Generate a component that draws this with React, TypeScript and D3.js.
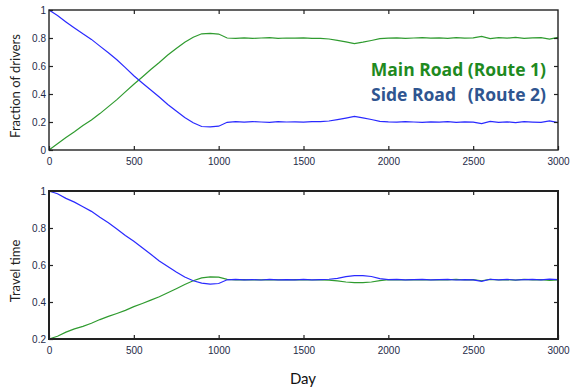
import React, { useEffect, useRef } from 'react';
import * as d3 from 'd3';

// sampled every 50 days
const days = [
  0, 50, 100, 150, 200, 250, 300, 350, 400, 450,
  500, 550, 600, 650, 700, 750, 800, 850, 900, 950,
  1000, 1050, 1100, 1150, 1200, 1250, 1300, 1350, 1400, 1450,
  1500, 1550, 1600, 1650, 1700, 1750, 1800, 1850, 1900, 1950,
  2000, 2050, 2100, 2150, 2200, 2250, 2300, 2350, 2400, 2450,
  2500, 2550, 2600, 2650, 2700, 2750, 2800, 2850, 2900, 2950,
  3000,
];

const mainFraction = [
  0.000, 0.045, 0.090, 0.130, 0.175, 0.215, 0.260, 0.310, 0.360, 0.415,
  0.470, 0.522, 0.575, 0.625, 0.678, 0.725, 0.770, 0.805, 0.830, 0.833,
  0.828, 0.800, 0.798, 0.801, 0.797, 0.800, 0.802, 0.798, 0.800, 0.799,
  0.801, 0.798, 0.797, 0.793, 0.783, 0.772, 0.760, 0.770, 0.782, 0.795,
  0.799, 0.801, 0.798, 0.800, 0.802, 0.799, 0.801, 0.797, 0.802, 0.799,
  0.801, 0.812, 0.796, 0.803, 0.799, 0.804, 0.798, 0.801, 0.803, 0.792,
  0.805,
];

const sideFraction = [
  1.000, 0.960, 0.915, 0.872, 0.830, 0.790, 0.742, 0.695, 0.645, 0.588,
  0.530, 0.478, 0.428, 0.378, 0.325, 0.278, 0.232, 0.195, 0.168, 0.165,
  0.170, 0.198, 0.202, 0.199, 0.203, 0.200, 0.198, 0.202, 0.200, 0.201,
  0.199, 0.202, 0.203, 0.207, 0.217, 0.228, 0.240, 0.230, 0.218, 0.205,
  0.201, 0.199, 0.202, 0.200, 0.198, 0.201, 0.199, 0.203, 0.198, 0.201,
  0.199, 0.188, 0.204, 0.197, 0.201, 0.196, 0.202, 0.199, 0.197, 0.208,
  0.195,
];

const mainTime = [
  0.200, 0.215, 0.237, 0.255, 0.268, 0.285, 0.305, 0.322, 0.338, 0.355,
  0.375, 0.392, 0.410, 0.428, 0.450, 0.472, 0.495, 0.515, 0.530, 0.536,
  0.534, 0.522, 0.520, 0.521, 0.519, 0.520, 0.521, 0.520, 0.519, 0.521,
  0.520, 0.519, 0.520, 0.518, 0.514, 0.508, 0.505, 0.505, 0.508, 0.516,
  0.521, 0.520, 0.519, 0.521, 0.520, 0.519, 0.521, 0.520, 0.522, 0.519,
  0.521, 0.515, 0.522, 0.519, 0.521, 0.518, 0.522, 0.520, 0.521, 0.517,
  0.520,
];

const sideTime = [
  1.000, 0.985, 0.960, 0.940, 0.915, 0.890, 0.858, 0.828, 0.795, 0.760,
  0.728, 0.693, 0.658, 0.622, 0.592, 0.562, 0.535, 0.515, 0.502, 0.497,
  0.500, 0.520, 0.522, 0.520, 0.521, 0.519, 0.522, 0.520, 0.521, 0.520,
  0.522, 0.520, 0.521, 0.523, 0.528, 0.537, 0.543, 0.543, 0.538, 0.526,
  0.521, 0.522, 0.520, 0.521, 0.522, 0.520, 0.521, 0.522, 0.519, 0.521,
  0.520, 0.512, 0.523, 0.520, 0.522, 0.519, 0.521, 0.522, 0.520, 0.524,
  0.521,
];

const xTicks = [0, 500, 1000, 1500, 2000, 2500, 3000];
const fractionTicks = [0, 0.2, 0.4, 0.6, 0.8, 1];
const timeTicks = [0.2, 0.4, 0.6, 0.8, 1];

const GREEN = '#2f9b2f';
const BLUE = '#2a2aff';

const App = () => {
  const svgRef = useRef<SVGSVGElement>(null);

  useEffect(() => {
    const svg = d3.select(svgRef.current);
    svg.selectAll('*').remove();

    const left = 49;
    const right = 558;
    const x = d3.scaleLinear().domain([0, 3000]).range([left, right]);

    const panels = [
      { top: 10, bottom: 150, domain: [0, 1], ticks: fractionTicks, main: mainFraction, side: sideFraction, title: 'Fraction of drivers', frame: 1.4 },
      { top: 191, bottom: 339, domain: [0.2, 1], ticks: timeTicks, main: mainTime, side: sideTime, title: 'Travel time', frame: 2 },
    ];

    panels.forEach(p => {
      const y = d3.scaleLinear().domain(p.domain).range([p.bottom, p.top]);
      const g = svg.append('g');

      // series
      [[p.main, GREEN], [p.side, BLUE]].forEach(([vals, color]) => {
        const line = d3.line<number>()
          .x((_, i) => x(days[i]))
          .y(d => y(d));
        g.append('path')
          .datum(vals as number[])
          .attr('d', line)
          .attr('fill', 'none')
          .attr('stroke', color as string)
          .attr('stroke-width', 1.2);
      });

      const style = (sel: any, labels: boolean) => {
        sel.select('.domain').remove();
        sel.selectAll('line').attr('stroke', '#222').attr('stroke-width', 1.2);
        sel.selectAll('text')
          .style('font-family', '"Liberation Sans", Arial, sans-serif')
          .style('font-size', '10px')
          .attr('fill', '#1e2a48');
        if (!labels) sel.selectAll('text').remove();
      };

      // inward ticks on all four sides
      g.append('g')
        .attr('transform', `translate(0,${p.bottom})`)
        .call(d3.axisBottom(x).tickValues(xTicks).tickSize(-4).tickPadding(8).tickFormat(d => String(d)))
        .call(s => style(s, true));
      g.append('g')
        .attr('transform', `translate(0,${p.top})`)
        .call(d3.axisTop(x).tickValues(xTicks.slice(1, -1)).tickSize(-4))
        .call(s => style(s, false));
      g.append('g')
        .attr('transform', `translate(${left},0)`)
        .call(d3.axisLeft(y).tickValues(p.ticks).tickSize(-4).tickPadding(3).tickFormat(d => String(d)))
        .call(s => style(s, true));
      g.append('g')
        .attr('transform', `translate(${right},0)`)
        .call(d3.axisRight(y).tickValues(p.ticks.slice(1, -1)).tickSize(-4))
        .call(s => style(s, false));

      g.append('rect')
        .attr('x', left)
        .attr('y', p.top)
        .attr('width', right - left)
        .attr('height', p.bottom - p.top)
        .attr('fill', 'none')
        .attr('stroke', '#222')
        .attr('stroke-width', p.frame);

      g.append('text')
        .attr('transform', `translate(20,${(p.top + p.bottom) / 2 + 6}) rotate(-90)`)
        .attr('text-anchor', 'middle')
        .style('font-family', 'Lato, "Open Sans", sans-serif')
        .style('font-size', '13px')
        .attr('fill', '#222')
        .text(p.title);
    });

    svg.append('text')
      .attr('x', 303)
      .attr('y', 384)
      .attr('text-anchor', 'middle')
      .style('font-family', 'Lato, "Open Sans", sans-serif')
      .style('font-size', '15px')
      .attr('fill', '#111')
      .text('Day');

    // legend labels
    const legend = svg.append('g')
      .style('font-family', '"Open Sans", Lato, sans-serif')
      .style('font-size', '17.5px')
      .style('font-weight', 'bold');
    legend.append('text').attr('x', 546).attr('y', 76).attr('text-anchor', 'end')
      .attr('fill', '#1f8a1f').text('Main Road (Route 1)');
    legend.append('text').attr('x', 371).attr('y', 101)
      .attr('fill', '#2f5590').text('Side Road');
    legend.append('text').attr('x', 546).attr('y', 101).attr('text-anchor', 'end')
      .attr('fill', '#2f5590').text('(Route 2)');
  }, []);

  return (
    <svg
      ref={svgRef}
      width={576}
      height={391}
      style={{ position: 'absolute', left: 0, top: 0, background: '#fff' }}
    />
  );
};

export default App;
